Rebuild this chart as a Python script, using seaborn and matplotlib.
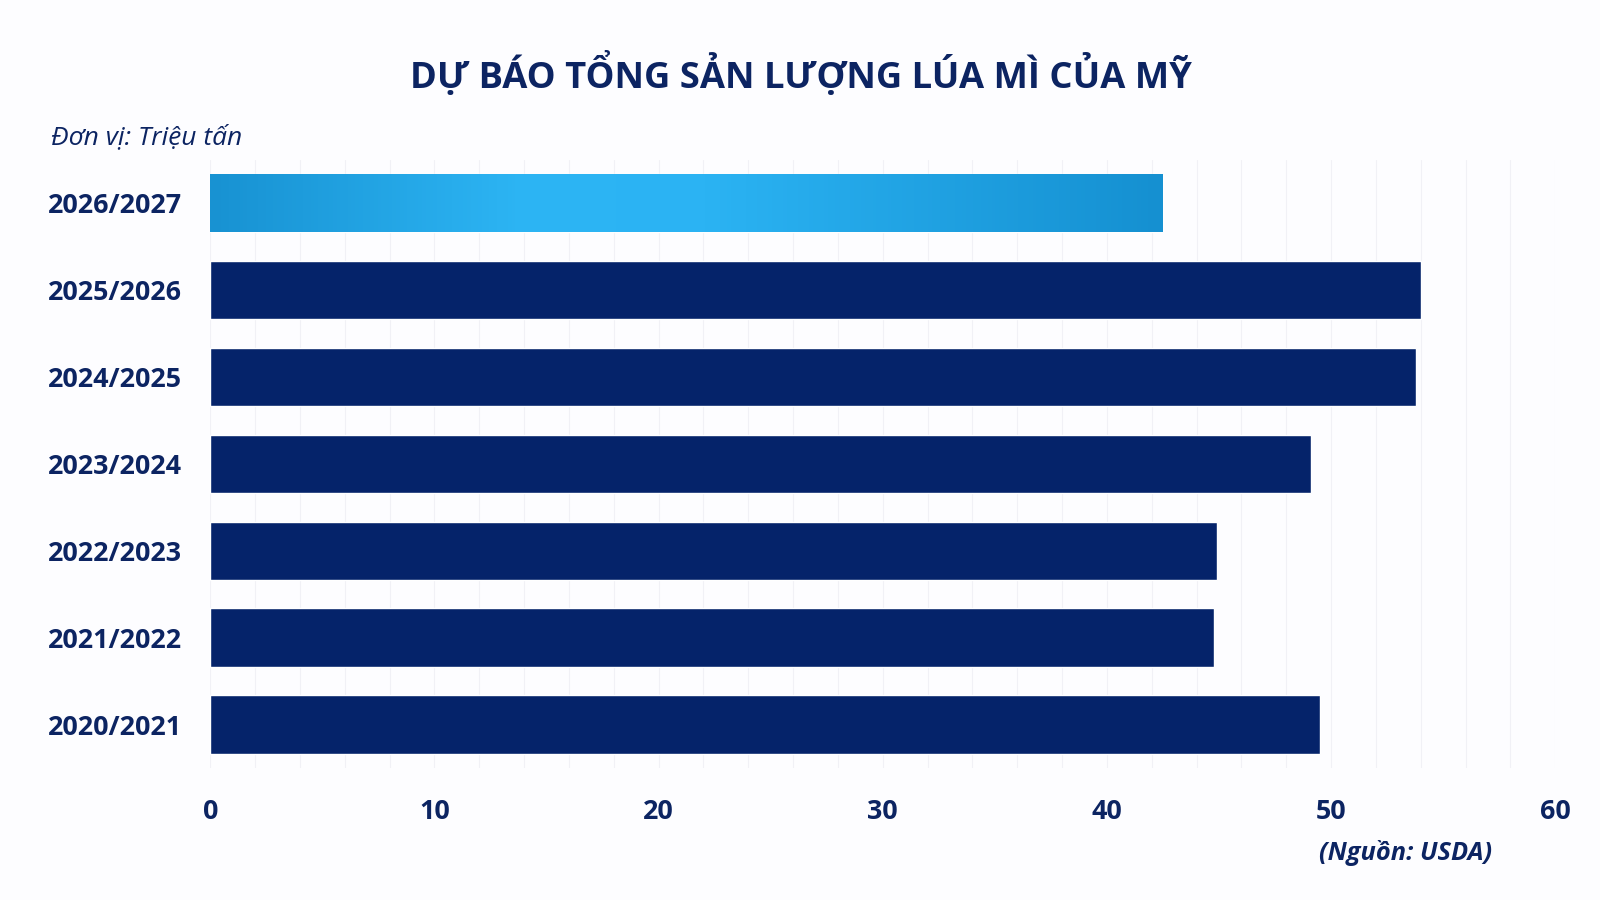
import numpy as np
import pandas as pd
import seaborn as sns
import matplotlib.pyplot as plt
from matplotlib.colors import LinearSegmentedColormap

# data
seasons = ["2026/2027", "2025/2026", "2024/2025", "2023/2024",
           "2022/2023", "2021/2022", "2020/2021"]
production = [42.5, 54.0, 53.8, 49.1, 44.9, 44.8, 49.5]
x_ticks = [0, 10, 20, 30, 40, 50, 60]

NAVY = "#05236a"
TEXT = "#0c2462"

df = pd.DataFrame({"season": seasons, "production": production})

sns.set_theme(style="white")
plt.rcParams["font.family"] = ["Open Sans", "DejaVu Sans"]

fig = plt.figure(figsize=(16, 9), dpi=100, facecolor="#fdfdff")
ax = fig.add_axes([0.1314, 0.1467, 0.8406, 0.676])
ax.set_facecolor("#fdfdff")

sns.barplot(data=df, x="production", y="season", orient="h",
            color=NAVY, width=0.67, saturation=1, ax=ax, zorder=2)

# gradient fill on the forecast bar
bar = ax.patches[0]
x0, y0 = bar.get_x(), bar.get_y()
w, h = bar.get_width(), bar.get_height()
cmap = LinearSegmentedColormap.from_list(
    "fc", [(0, "#1892d2"), (0.33, "#2db5f4"), (0.52, "#2bb3f3"), (1, "#1590d1")])
grad = np.linspace(0, 1, 256).reshape(1, -1)
img = ax.imshow(grad, cmap=cmap, aspect="auto", zorder=3,
                extent=[x0, x0 + w, y0 + h, y0])
img.set_clip_path(bar)

ax.set_xlim(0, 60)
ax.set_ylim(6.5, -0.5)
ax.set_xticks(x_ticks)
ax.set_xticks(np.arange(0, 61, 2), minor=True)
ax.grid(axis="x", which="both", color="#f1f1f6", linewidth=0.8, zorder=0)
ax.set_axisbelow(True)
for s in ax.spines.values():
    s.set_visible(False)
ax.set_xlabel("")
ax.set_ylabel("")
ax.tick_params(axis="x", which="both", length=0, pad=22)
ax.tick_params(axis="y", length=0, pad=20.5)
for lab in ax.get_xticklabels() + ax.get_yticklabels():
    lab.set_fontsize(19.4)
    lab.set_fontweight("bold")
    lab.set_color(TEXT)

fig.text(0.5006, 0.917, "DỰ BÁO TỔNG SẢN LƯỢNG LÚA MÌ CỦA MỸ", ha="center",
         va="center", fontsize=26.2, fontweight="bold", color=TEXT)
fig.text(0.0319, 0.847, "Đơn vị: Triệu tấn", ha="left", va="center",
         fontsize=19, fontstyle="italic", color=TEXT)
fig.text(0.9324, 0.052, "(Nguồn: USDA)", ha="right", va="center",
         fontsize=18.3, fontstyle="italic", fontweight="bold", color=TEXT)

fig.savefig("out.png", dpi=100, facecolor=fig.get_facecolor())
